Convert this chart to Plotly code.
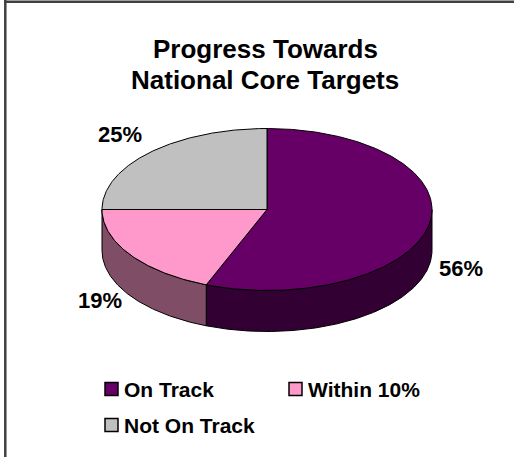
import numpy as np
import plotly.graph_objects as go

# ---- data ----
categories = ["On Track", "Within 10%", "Not On Track"]
values = [56, 19, 25]
label_text = ["56%", "19%", "25%"]
title_lines = ["Progress Towards", "National Core Targets"]

# ---- styles / layout constants ----
TOP_COLORS = ["#660066", "#FF99CC", "#C0C0C0"]
SIDE_COLORS = ["#330033", "#804D66", "#606060"]
W, H = 514, 457
CX, CY, RX, RY, DEPTH = 267, 209.5, 165, 81, 41
FONT = "Liberation Sans, Arial, sans-serif"
LBL_R = 1.05
LEG_X0, LEG_COL_DX, LEG_Y0, LEG_ROW_DY = 111.5, 184, 389, 36

fig = go.Figure()

total = float(sum(values))
bounds = np.concatenate([[0.0], np.cumsum(values)]) / total * 360.0


def ell(theta_deg, dy=0.0):
    t = np.radians(theta_deg)
    return CX + RX * np.sin(t), CY - RY * np.cos(t) + dy


# side walls (front half only: 90..270 deg clockwise from top)
for i in range(len(values)):
    a, b = max(bounds[i], 90.0), min(bounds[i + 1], 270.0)
    if b <= a:
        continue
    th = np.linspace(a, b, max(int((b - a) * 2), 2))
    xt, yt = ell(th)
    xb, yb = ell(th[::-1], DEPTH)
    xs = np.concatenate([xt, xb, xt[:1]])
    ys = np.concatenate([yt, yb, yt[:1]])
    fig.add_trace(go.Scatter(x=xs, y=ys, mode="lines", fill="toself",
                             fillcolor=SIDE_COLORS[i],
                             line=dict(color="black", width=1),
                             hoverinfo="skip", showlegend=False))

# top faces
for i in range(len(values)):
    a, b = bounds[i], bounds[i + 1]
    th = np.linspace(a, b, max(int((b - a) * 2), 2))
    x, y = ell(th)
    xs = np.concatenate([[CX], x, [CX]])
    ys = np.concatenate([[CY], y, [CY]])
    fig.add_trace(go.Scatter(x=xs, y=ys, mode="lines", fill="toself",
                             fillcolor=TOP_COLORS[i],
                             line=dict(color="black", width=1),
                             hoverinfo="text", text=categories[i],
                             showlegend=False))

annotations = []
# data labels
for i in range(len(values)):
    mid = (bounds[i] + bounds[i + 1]) / 2
    t = np.radians(mid)
    lx = CX + RX * LBL_R * np.sin(t)
    ly = CY - RY * LBL_R * np.cos(t)
    front = np.cos(t) < 0
    if front:
        ly += DEPTH + 2
    annotations.append(dict(
        x=lx, y=ly, xref="x", yref="y", text=label_text[i], showarrow=False,
        xanchor="left" if np.sin(t) > 0 else "right",
        yanchor="middle" if front else "bottom",
        font=dict(family=FONT, size=22, color="black", weight="bold")))

# title
for k, line in enumerate(title_lines):
    annotations.append(dict(
        x=265, y=49 + 31 * k, xref="x", yref="y", text=line, showarrow=False,
        xanchor="center", yanchor="middle",
        font=dict(family=FONT, size=26, color="black", weight="bold")))

# legend (manual, 2 columns)
lx = [LEG_X0 + LEG_COL_DX * (i % 2) for i in range(len(categories))]
ly = [LEG_Y0 + LEG_ROW_DY * (i // 2) for i in range(len(categories))]
fig.add_trace(go.Scatter(x=lx, y=ly, mode="markers",
                         marker=dict(symbol="square", size=13, color=TOP_COLORS,
                                     line=dict(color="black", width=1.5)),
                         hoverinfo="skip", showlegend=False))
for i, c in enumerate(categories):
    annotations.append(dict(
        x=lx[i] + 10, y=ly[i], xref="x", yref="y", text=c, showarrow=False,
        xanchor="left", yanchor="middle",
        font=dict(family=FONT, size=21, color="black", weight="bold")))

fig.update_layout(
    width=W, height=H, margin=dict(l=0, r=0, t=0, b=0),
    paper_bgcolor="white", plot_bgcolor="white",
    xaxis=dict(range=[0, W], visible=False, fixedrange=True),
    yaxis=dict(range=[H, 0], visible=False, fixedrange=True),
    annotations=annotations,
    shapes=[
        dict(type="line", xref="paper", yref="paper", x0=4 / W, x1=1, y0=1 - 1.8 / H, y1=1 - 1.8 / H,
             line=dict(color="#404040", width=2.5)),
        dict(type="line", xref="paper", yref="paper", x0=5.3 / W, x1=5.3 / W, y0=0, y1=1,
             line=dict(color="#404040", width=2.5)),
    ],
    showlegend=False,
)

fig.write_html("out.html", config={"displayModeBar": False},
               post_script="document.body.style.margin='0';")
